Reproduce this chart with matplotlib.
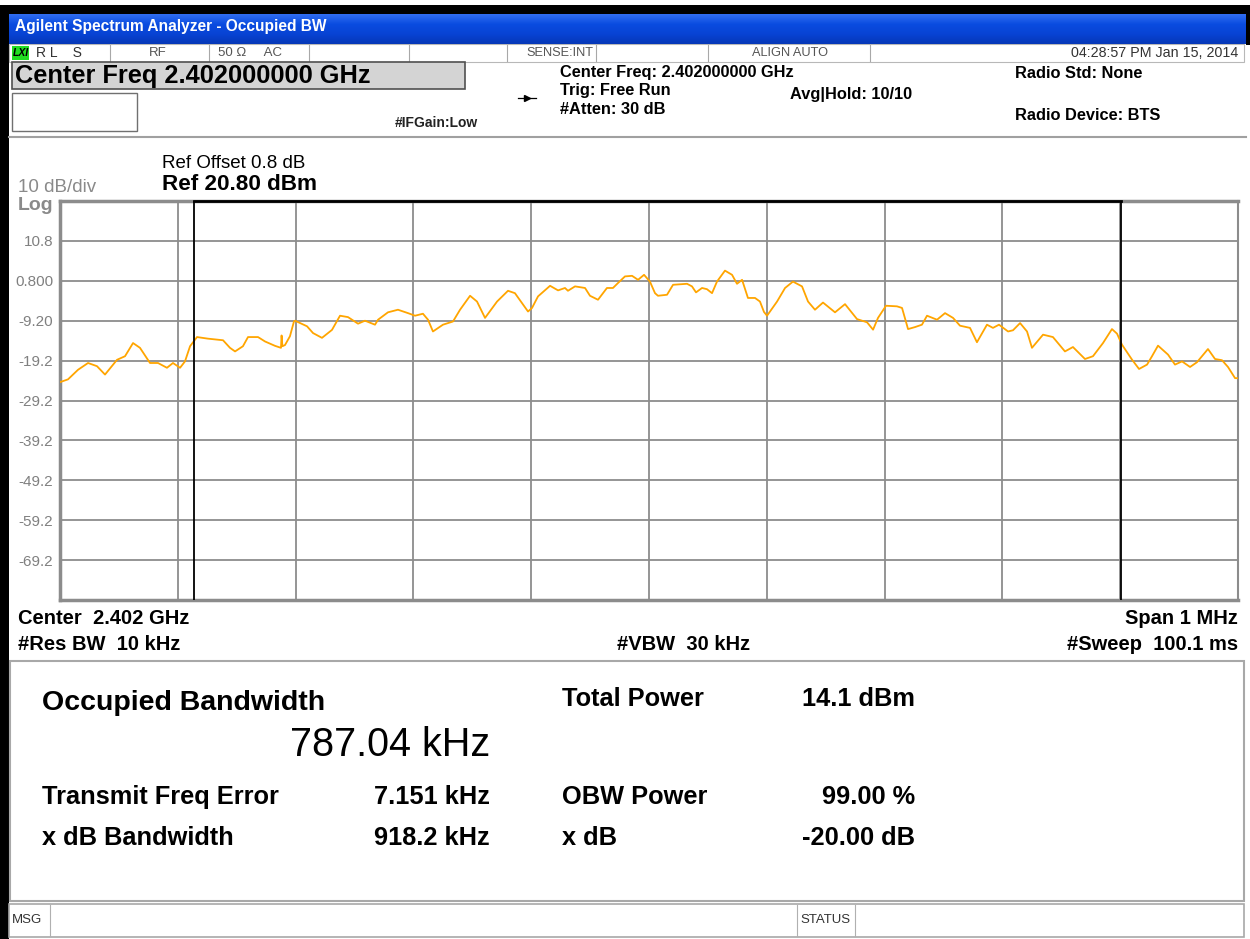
import numpy as np
import matplotlib.pyplot as plt
from matplotlib.patches import Rectangle

# trace: frequency offset from center (kHz) and level (dBm)
freq_khz = [-500.0, -493.2, -484.7, -476.2, -468.6, -461.8, -451.6, -444.8, -438.0, -432.1,
            -423.6, -416.8, -409.2, -404.1, -398.1, -393.9, -389.6, -383.7, -374.4, -361.6,
            -355.7, -351.4, -344.7, -340.4, -331.9, -326.0, -317.5, -312.4, -311.9, -311.2,
            -309.0, -304.8, -301.4, -300.5, -290.3, -285.2, -277.6, -269.1, -262.3, -255.5,
            -247.0, -241.1, -232.6, -230.0, -221.6, -213.1, -204.6, -198.6, -191.9, -187.6,
            -183.4, -174.9, -166.4, -160.4, -151.9, -146.0, -139.2, -129.0, -119.7, -113.8,
            -107.8, -102.7, -99.3, -94.2, -84.0, -77.2, -71.3, -68.8, -62.8, -54.3,
            -50.1, -43.3, -35.7, -30.6, -26.3, -20.4, -14.4, -9.3, -4.2, 0.8,
            5.1, 7.6, 15.3, 20.4, 32.3, 36.5, 39.9, 45.0, 49.2, 53.5,
            57.7, 64.5, 70.5, 74.7, 79.0, 84.0, 90.0, 94.2, 97.6, 100.2,
            108.7, 115.5, 122.2, 129.9, 135.0, 140.9, 147.7, 157.9, 166.4, 176.6,
            185.1, 190.2, 194.4, 201.2, 210.5, 214.8, 219.9, 225.8, 231.7, 236.0,
            244.5, 251.3, 258.1, 264.0, 272.5, 278.4, 286.9, 292.0, 297.1, 304.8,
            309.0, 315.0, 320.9, 325.1, 334.5, 342.9, 353.1, 359.9, 370.1, 376.9,
            385.4, 393.0, 397.3, 401.5, 410.0, 416.0, 422.8, 427.0, 432.1, 440.6,
            446.5, 452.5, 459.3, 465.2, 474.5, 480.5, 486.4, 491.5, 497.5, 500.0]
level_dbm = [-24.6, -23.9, -21.5, -19.8, -20.6, -22.7, -19.0, -18.1, -14.8, -16.0,
             -19.8, -19.8, -21.0, -19.8, -21.0, -19.4, -15.6, -13.3, -13.7, -14.1,
             -16.0, -16.9, -15.6, -13.3, -13.3, -14.4, -15.5, -16.0, -12.9, -15.6,
             -15.3, -13.1, -9.4, -9.2, -10.6, -12.3, -13.5, -11.5, -7.95, -8.3,
             -9.95, -9.2, -10.2, -8.95, -7.1, -6.45, -7.3, -7.95, -7.45, -8.95,
             -11.9, -10.2, -9.4, -6.45, -2.95, -4.4, -8.5, -4.4, -1.7, -2.3,
             -4.8, -6.9, -6.0, -3.1, -0.45, -1.6, -1.0, -1.7, -0.6, -1.0,
             -2.95, -3.95, -1.0, -1.0, 0.25, 1.9, 2.05, 1.05, 2.3, 0.6,
             -2.3, -2.95, -2.7, -0.2, 0.05, -0.6, -2.1, -1.0, -1.3, -2.3,
             0.6, 3.35, 2.3, 0.05, 1.05, -3.5, -3.5, -4.4, -7.0, -7.95,
             -4.4, -1.0, 0.6, -0.6, -4.4, -6.45, -4.65, -7.1, -5.05, -8.8,
             -9.6, -11.45, -8.5, -5.45, -5.6, -6.0, -11.3, -10.8, -10.2, -7.95,
             -8.95, -7.3, -8.5, -10.45, -11.0, -14.6, -10.2, -11.0, -10.2, -11.9,
             -11.6, -9.8, -11.9, -16.0, -12.7, -13.3, -16.9, -15.8, -18.8, -18.1,
             -14.8, -11.3, -12.45, -15.2, -18.95, -21.3, -20.2, -18.1, -15.45, -17.7,
             -20.2, -19.4, -20.8, -19.6, -16.3, -18.8, -19.1, -20.8, -23.6, -23.6]

ref_level = 20.8
y_ticks = [10.8, 0.8, -9.2, -19.2, -29.2, -39.2, -49.2, -59.2, -69.2]
y_labels = ['10.8', '0.800', '-9.20', '-19.2', '-29.2', '-39.2', '-49.2', '-59.2', '-69.2']
obw_khz = 787.04
freq_err_khz = 7.151
markers_khz = [freq_err_khz - obw_khz / 2, freq_err_khz + obw_khz / 2]

W, H = 1250, 939
plt.rcParams['font.family'] = ['Liberation Sans', 'DejaVu Sans']

fig = plt.figure(figsize=(W / 100, H / 100), dpi=100)
bg = fig.add_axes([0, 0, 1, 1])
bg.set_xlim(0, W)
bg.set_ylim(H, 0)
bg.axis('off')


def box(x0, y0, x1, y1, fc='white', ec='#a0a0a0', lw=1.0, z=1):
    bg.add_patch(Rectangle((x0, y0), x1 - x0, y1 - y0, facecolor=fc, edgecolor=ec, lw=lw, zorder=z))


def txt(x, y, s, size=10, **kw):
    kw.setdefault('va', 'center')
    bg.text(x, y, s, fontsize=size, **kw)


# window frame
box(0, 0, W, H, fc='white', ec='none', z=0)
box(0, 5, W, 15, fc='black', ec='none')
box(0, 5, 9, H, fc='black', ec='none')
box(1246, 5, W, 45, fc='black', ec='none')
grad = np.linspace(0, 1, 30).reshape(-1, 1)
bg.imshow(grad, extent=(9, 1246, 44, 14), aspect='auto', cmap=plt.matplotlib.colors.LinearSegmentedColormap.from_list(
    'xp', ['#2f6cf0', '#0a4ce0', '#0843d4', '#0638b8']), zorder=2)
txt(15, 27, 'Agilent Spectrum Analyzer - Occupied BW', size=11.2, color='white', fontweight='bold', zorder=3)

# status row
box(9, 44, 1244, 62, fc='white', ec='#b8b8b8', lw=0.8)
for sx in [110, 209, 309, 409, 507, 596, 708, 870]:
    bg.plot([sx, sx], [45, 61], color='#a8a8a8', lw=0.8, zorder=2)
box(12, 46, 29, 60, fc='#22dd22', ec='none', z=2)
txt(13, 53, 'LXI', size=7.5, fontweight='bold', style='italic', color='black', zorder=3)
txt(36, 53, 'R L    S', size=10, color='#333333', zorder=3)
txt(158, 53, 'RF', size=9.5, color='#555555', ha='center', zorder=3)
txt(218, 53, '50 Ω     AC', size=9.5, color='#555555', zorder=3)
txt(593, 53, 'SENSE:INT', size=9.2, color='#555555', ha='right', zorder=3)
txt(790, 53, 'ALIGN AUTO', size=9.2, color='#555555', ha='center', zorder=3)
txt(1238, 53, '04:28:57 PM Jan 15, 2014', size=10.3, color='#333333', ha='right', zorder=3)

# header
box(12, 62, 465, 89, fc='#d4d4d4', ec='#505050', lw=1.2, z=2)
txt(15, 76, 'Center Freq 2.402000000 GHz', size=18.3, fontweight='bold', zorder=3)
box(12, 93, 137, 131, fc='white', ec='#707070', lw=1.0, z=2)
txt(395, 123, '#IFGain:Low', size=10, fontweight='bold', color='#222222')
bg.plot([518, 536], [98, 98], color='black', lw=0.9)
bg.plot([527], [98], marker='>', color='black', ms=4)
hdr = dict(size=11.8, fontweight='bold')
txt(560, 73, 'Center Freq: 2.402000000 GHz', **hdr)
txt(560, 91, 'Trig: Free Run', **hdr)
txt(560, 109, '#Atten: 30 dB', **hdr)
txt(790, 94, 'Avg|Hold: 10/10', **hdr)
txt(1015, 73, 'Radio Std: None', **hdr)
txt(1015, 115, 'Radio Device: BTS', **hdr)
bg.plot([9, 1246], [137, 137], color='#a0a0a0', lw=1.5)

# scale annotations
txt(162, 164, 'Ref Offset 0.8 dB', size=13.5)
txt(162, 185, 'Ref 20.80 dBm', size=16.2, fontweight='bold')
txt(18, 187, '10 dB/div', size=13.5, color='#8a8a8a')
txt(18, 206, 'Log', size=14, color='#8a8a8a', fontweight='bold')

# spectrum plot
ax = fig.add_axes([60 / W, 1 - 600 / H, 1178 / W, 399 / H])
ax.plot(freq_khz, level_dbm, color='#ffa500', lw=1.3, zorder=3)
for m in markers_khz:
    ax.axvline(m, color='black', lw=1.3, zorder=4)
ax.plot(markers_khz, [ref_level, ref_level], color='black', lw=2.0, zorder=5, clip_on=False)
ax.set_xlim(-500, 500)
ax.set_ylim(ref_level - 100, ref_level)
ax.set_xticks(np.arange(-400, 500, 100))
ax.set_xticklabels([])
ax.set_yticks(y_ticks)
ax.set_yticklabels(y_labels)
ax.tick_params(length=0, labelsize=11, labelcolor='#808080', pad=5)
ax.grid(color='#8c8c8c', lw=1.3)
ax.set_axisbelow(True)
for sp in ax.spines.values():
    sp.set_color('#8c8c8c')
    sp.set_linewidth(2.5)
ax.spines['right'].set_linewidth(1.5)

# lower settings
low = dict(size=14.5, fontweight='bold')
txt(18, 619, 'Center  2.402 GHz', **low)
txt(18, 644, '#Res BW  10 kHz', **low)
txt(684, 644, '#VBW  30 kHz', ha='center', **low)
txt(1238, 619, 'Span 1 MHz', ha='right', **low)
txt(1238, 644, '#Sweep  100.1 ms', ha='right', **low)

# measurement results
box(10, 661, 1244, 901, fc='white', ec='#a8a8a8', lw=1.5)
res = dict(size=18.3, fontweight='bold')
txt(42, 703, 'Occupied Bandwidth', size=20.5, fontweight='bold')
txt(490, 745, '787.04 kHz', size=28.5, ha='right')
txt(562, 699, 'Total Power', **res)
txt(915, 699, '14.1 dBm', ha='right', **res)
txt(42, 797, 'Transmit Freq Error', **res)
txt(490, 797, '7.151 kHz', ha='right', **res)
txt(562, 797, 'OBW Power', **res)
txt(915, 797, '99.00 %', ha='right', **res)
txt(42, 838, 'x dB Bandwidth', **res)
txt(490, 838, '918.2 kHz', ha='right', **res)
txt(562, 838, 'x dB', **res)
txt(915, 838, '-20.00 dB', ha='right', **res)

# message bar
box(9, 904, 1244, 937, fc='white', ec='#a8a8a8', lw=1.2)
for sx in [50, 797, 855]:
    bg.plot([sx, sx], [905, 936], color='#b0b0b0', lw=0.8)
txt(12, 920, 'MSG', size=9.5, color='#333333')
txt(800, 920, 'STATUS', size=9.5, color='#333333')

fig.savefig('out.png', dpi=100)
